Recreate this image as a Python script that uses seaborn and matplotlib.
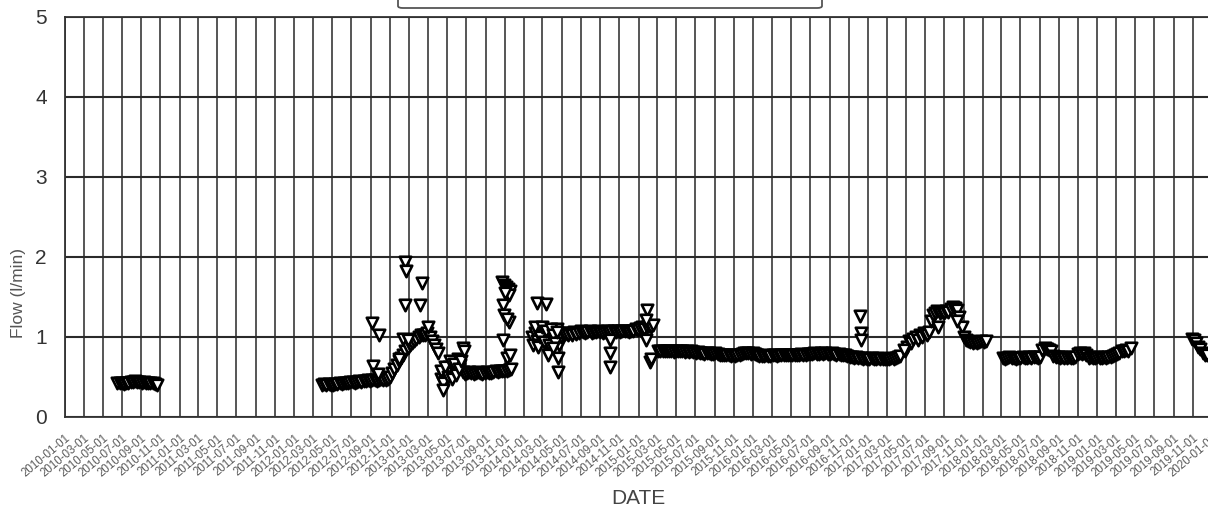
import matplotlib
matplotlib.use("Agg")
import matplotlib.pyplot as plt
import matplotlib.dates as mdates
from matplotlib.ticker import MultipleLocator
from matplotlib.patches import FancyBboxPatch
import pandas as pd
import seaborn as sns

# ---------------- data (weekly readings per measurement campaign) ----------------
seg_a_start = "2010-06-17"
seg_a_values = [0.42, 0.43, 0.42, 0.41, 0.42, 0.43, 0.44, 0.44, 0.45, 0.44,
                0.44, 0.43, 0.44, 0.43, 0.42, 0.43, 0.42, 0.41, 0.40]

seg_b_start = "2012-03-29"
seg_b_values = [0.40, 0.41, 0.40, 0.41, 0.40, 0.40, 0.41, 0.41, 0.42, 0.41, 0.42,
                0.43, 0.43, 0.44, 0.44, 0.43, 0.44, 0.45, 0.44, 0.45, 0.45,
                0.46, 0.45, 0.46, 0.46, 0.45, 0.46, 0.47, 0.46, 0.46, 0.47,
                0.50, 0.55, 0.60, 0.65, 0.70,
                0.74, 0.78, 0.82, 0.86, 0.90,
                0.92, 0.95, 0.98, 1.00, 1.02,
                1.03, 1.02, 1.05, 1.00,
                0.95, 0.90, 0.85, 0.80,
                0.48, 0.52, 0.45, 0.58, 0.62, 0.55, 0.68, 0.60, 0.72, 0.65,
                0.56, 0.54, 0.55, 0.56, 0.55, 0.54, 0.55, 0.56, 0.55, 0.54,
                0.55, 0.56, 0.55, 0.55, 0.56, 0.57, 0.56, 0.57, 0.58, 0.57,
                0.58, 0.59, 0.60]
seg_b2_start = "2013-04-12"
seg_b2_values = [0.58, 0.42, 0.62, 0.50, 0.70, 0.48, 0.66, 0.52, 0.60, 0.70]

seg_c_start = "2014-01-28"
seg_c_values = [1.00, 1.05, 0.95, 1.10, 0.98, 1.02, 0.92, 1.08, 1.00, 0.95,
                1.05, 1.10, 0.90, 1.00, 1.05,
                1.04, 1.02, 1.05, 1.03, 1.06, 1.04, 1.05, 1.07, 1.06, 1.05,
                1.06, 1.07, 1.05, 1.06, 1.06, 1.07, 1.06, 1.05, 1.06, 1.07,
                1.06, 1.07, 1.08, 1.06, 1.07, 1.06, 1.07, 1.08, 1.07, 1.06,
                1.07, 1.08, 1.10, 1.09, 1.11, 1.12, 1.10, 1.13, 1.14, 1.12, 1.15]
seg_c2_start = "2014-01-31"
seg_c2_values = [0.90, 1.12, 0.88, 1.00, 1.12, 0.94, 1.08, 0.90, 1.10, 1.02, 0.92, 1.06]

seg_d_start = "2015-03-05"
seg_d_values = [0.83, 0.82, 0.83, 0.82, 0.82, 0.83, 0.82, 0.81, 0.82, 0.83, 0.82, 0.82,
                0.81, 0.82, 0.81, 0.82, 0.81,
                0.80, 0.81, 0.80, 0.80, 0.79, 0.80, 0.80, 0.79, 0.79, 0.80, 0.79,
                0.78, 0.78, 0.77,
                0.77, 0.77, 0.76, 0.77, 0.76, 0.77, 0.78, 0.79, 0.80, 0.80,
                0.80, 0.79, 0.80, 0.79, 0.77, 0.76,
                0.76, 0.76, 0.77, 0.76, 0.76, 0.77, 0.77, 0.76, 0.77, 0.77, 0.78,
                0.77, 0.77, 0.78, 0.78, 0.77, 0.78, 0.78, 0.79, 0.78, 0.78, 0.79,
                0.79, 0.79, 0.80, 0.79, 0.79, 0.80, 0.79, 0.80, 0.79, 0.79, 0.80,
                0.79, 0.78, 0.79, 0.78, 0.77, 0.77, 0.76,
                0.75, 0.75, 0.74, 0.75, 0.74, 0.74, 0.73, 0.74, 0.73, 0.73, 0.74,
                0.73, 0.73, 0.74, 0.73, 0.73, 0.72, 0.73, 0.73, 0.74, 0.73, 0.74,
                0.75, 0.76]

seg_e_start = "2017-04-27"
seg_e_values = [0.82, 0.88, 0.95, 0.92, 0.98, 1.00, 0.96, 1.02, 1.00, 1.05, 1.03, 1.06,
                1.20, 1.28, 1.30, 1.32, 1.30, 1.31, 1.30, 1.32, 1.31,
                1.35, 1.37, 1.36, 1.34,
                1.25, 1.12, 1.00, 0.96,
                0.95, 0.94, 0.93, 0.94, 0.93, 0.94, 0.95, 0.94, 0.95]

seg_f_start = "2018-03-06"
seg_f_values = [0.74, 0.73, 0.74, 0.75, 0.74, 0.74, 0.73, 0.74, 0.74, 0.75, 0.74, 0.74,
                0.75, 0.74, 0.75, 0.75, 0.74, 0.75,
                0.84, 0.86, 0.85, 0.84, 0.82,
                0.76, 0.75, 0.75, 0.74, 0.75, 0.74, 0.74, 0.75, 0.74, 0.74, 0.75,
                0.79, 0.80, 0.79, 0.80, 0.78,
                0.74, 0.75, 0.74, 0.74, 0.75, 0.74, 0.74, 0.75, 0.74, 0.75, 0.75,
                0.76, 0.77, 0.79,
                0.80, 0.82, 0.83, 0.84, 0.83]

seg_g_start = "2019-10-28"
seg_g_values = [0.98, 0.96, 0.92, 0.88, 0.85, 0.80, 0.78, 0.77]

outlier_dates = ["2012-09-04", "2012-09-27", "2012-09-07", "2012-09-23",
                 "2012-12-18", "2012-12-21", "2012-12-18", "2013-02-04", "2013-02-10",
                 "2012-12-12", "2012-12-28", "2012-11-30", "2013-03-02",
                 "2013-04-18", "2013-06-21", "2013-06-25",
                 "2013-10-23", "2013-10-30", "2013-11-05", "2013-11-12", "2013-11-18",
                 "2013-11-15", "2013-11-02", "2013-10-26", "2013-10-29", "2013-11-15",
                 "2013-11-09", "2013-10-26", "2013-11-09", "2013-11-18",
                 "2014-02-11", "2014-03-12", "2014-03-18", "2014-04-20", "2014-04-20",
                 "2014-04-03", "2014-10-02", "2014-10-02", "2014-10-02",
                 "2015-01-28", "2015-01-26", "2015-01-26", "2015-02-07", "2015-02-10",
                 "2016-12-05", "2016-12-08", "2016-12-08",
                 "2017-04-26", "2017-08-11", "2017-10-12", "2019-04-18"]
outlier_values = [1.17, 1.03, 0.64, 0.54,
                  1.94, 1.83, 1.40, 1.40, 1.67,
                  0.98, 0.96, 0.72, 1.13,
                  0.34, 0.86, 0.83,
                  1.69, 1.65, 1.62, 1.60, 1.57,
                  1.52, 1.55, 1.40, 1.27, 1.19,
                  1.22, 0.96, 0.74, 0.77,
                  1.42, 1.41, 0.78, 0.74, 0.56,
                  0.86, 0.96, 0.80, 0.63,
                  1.34, 1.21, 0.96, 0.69, 0.72,
                  1.26, 1.05, 0.96,
                  0.84, 1.13, 1.20, 0.86]

# ---------------- assemble table ----------------
segments = [(seg_a_start, seg_a_values), (seg_b_start, seg_b_values),
            (seg_b2_start, seg_b2_values), (seg_c_start, seg_c_values),
            (seg_c2_start, seg_c2_values), (seg_d_start, seg_d_values),
            (seg_e_start, seg_e_values), (seg_f_start, seg_f_values),
            (seg_g_start, seg_g_values)]
frames = []
for start, vals in segments:
    frames.append(pd.DataFrame({"DATE": pd.date_range(start, periods=len(vals), freq="7D"),
                                "Flow": vals}))
frames.append(pd.DataFrame({"DATE": pd.to_datetime(outlier_dates), "Flow": outlier_values}))
df = pd.concat(frames, ignore_index=True)

# ---------------- style ----------------
sns.set_style("white")
plt.rcParams["font.family"] = ["Liberation Sans", "DejaVu Sans"]

W, H = 1208, 508
fig = plt.figure(figsize=(W / 100, H / 100), dpi=100)
ax = fig.add_axes([65 / W, 91 / H, 1147 / W, 400 / H])

sns.scatterplot(data=df, x="DATE", y="Flow", ax=ax, marker="v", s=68,
                color="white", edgecolor="black", linewidth=1.9,
                zorder=3, legend=False)

ax.set_xlim(pd.Timestamp("2010-01-01"), pd.Timestamp("2020-01-01"))
ax.set_ylim(0, 5)

ax.xaxis.set_major_locator(mdates.MonthLocator(bymonth=[1, 3, 5, 7, 9, 11]))
ax.xaxis.set_minor_locator(mdates.MonthLocator())
ax.xaxis.set_major_formatter(mdates.DateFormatter("%Y-%m-%d"))
ax.yaxis.set_major_locator(MultipleLocator(1))
ax.yaxis.set_minor_locator(MultipleLocator(0.5))

ax.set_axisbelow(True)
ax.grid(True, which="major", axis="y", color="#2a2a2a", linewidth=1.5)
ax.grid(True, which="major", axis="x", color="#555555", linewidth=1.4)

ax.tick_params(axis="both", which="major", direction="out", length=9, width=1.3,
               color="#333333")
ax.tick_params(axis="both", which="minor", direction="out", length=3, width=1.1,
               color="#333333")
ax.tick_params(axis="y", which="major", labelsize=15, labelcolor="#333333", pad=4)
ax.tick_params(axis="x", which="major", labelsize=8.3, labelcolor="#5a5a5a", pad=2)
for lab in ax.get_xticklabels():
    lab.set_rotation(40)
    lab.set_ha("right")
    lab.set_va("top")
    lab.set_rotation_mode("anchor")

for sp in ax.spines.values():
    sp.set_color("#333333")
    sp.set_linewidth(1.3)

ax.set_xlabel("DATE", fontsize=15, color="#444444")
ax.xaxis.set_label_coords(0.5, -0.18)
ax.set_ylabel("Flow (l/min)", fontsize=12.5, color="#555555")
ax.yaxis.set_label_coords(-0.034, 0.31)

# legend frame (its content lies above the visible area)
legend_box = FancyBboxPatch((398 / W, 1 - 8 / H), 424 / W, 60 / H,
                            boxstyle="round,pad=0,rounding_size=0.004",
                            transform=fig.transFigure, facecolor="white",
                            edgecolor="#555555", linewidth=1.3, clip_on=False)
fig.patches.append(legend_box)

fig.savefig("out.png", dpi=100)
